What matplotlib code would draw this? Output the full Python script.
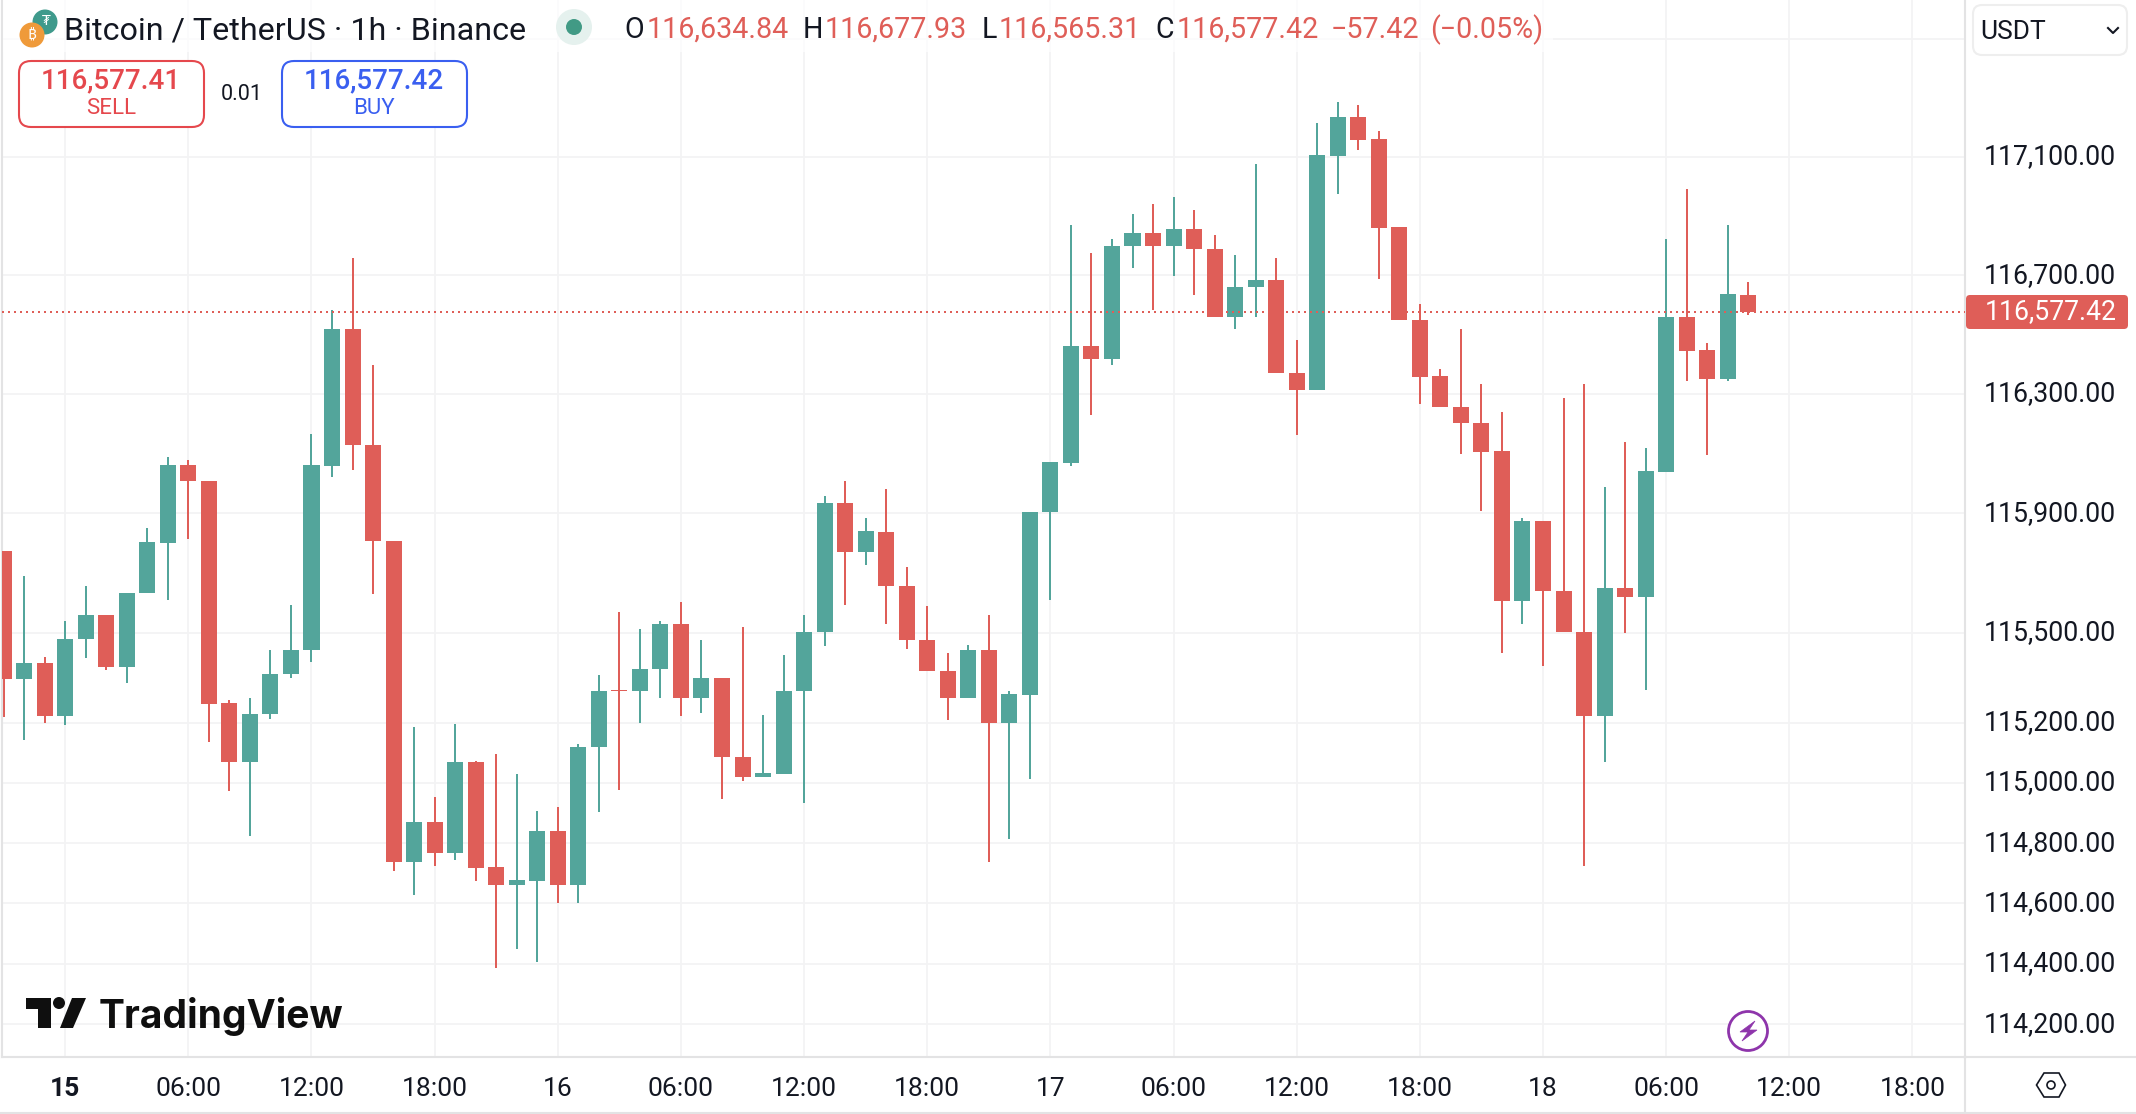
import matplotlib
matplotlib.use("Agg")
import numpy as np
import matplotlib.pyplot as plt
from matplotlib.patches import Circle, FancyBboxPatch, Polygon, Rectangle

plt.rcParams["font.family"] = ["Roboto", "Noto Sans", "DejaVu Sans"]

GREEN = "#53a59b"
RED = "#df5e58"
DARK = "#131722"
GRID = "#f3f3f4"
BORDER = "#e3e3e4"

# hours since 15th 00:00, first candle is 21:00 the day before
hours = np.arange(-3, 83)

opens = [115775, 115345, 115400, 115221, 115478, 115558, 115385, 115632, 115799, 116060,
         116009, 115267, 115068, 115228, 115361, 115442, 116058, 116520, 116130, 115808,
         114736, 114869, 114766, 115070, 114721, 114660, 114676, 114842, 114660, 115118,
         115310, 115305, 115378, 115528, 115284, 115350, 115087, 115021, 115031, 115305,
         115502, 115935, 115769, 115838, 115658, 115477, 115374, 115284, 115441, 115198,
         115294, 115903, 116068, 116462, 116416, 116797, 116841, 116797, 116857, 116789,
         116558, 116659, 116685, 116372, 116313, 117104, 117234, 117160, 116861, 116550,
         116359, 116257, 116204, 116107, 115605, 115875, 115641, 115504, 115224, 115651,
         115619, 116038, 116560, 116449, 116349, 116634.84]
closes = [115345, 115400, 115221, 115481, 115558, 115385, 115634, 115802, 116060, 116007,
          115264, 115068, 115230, 115364, 115444, 116060, 116520, 116128, 115806, 114736,
          114869, 114766, 115070, 114719, 114660, 114679, 114842, 114660, 115121, 115307,
          115305, 115380, 115528, 115284, 115350, 115085, 115021, 115034, 115307, 115504,
          115935, 115769, 115842, 115656, 115475, 115371, 115284, 115441, 115198, 115297,
          115905, 116070, 116462, 116416, 116799, 116841, 116797, 116857, 116787, 116558,
          116661, 116685, 116369, 116313, 117107, 117234, 117158, 116858, 116548, 116356,
          116255, 116201, 116104, 115605, 115875, 115639, 115502, 115224, 115651, 115619,
          116040, 116560, 116446, 116349, 116635, 116577.42]
highs = [115775, 115691, 115420, 115541, 115658, 115558, 115634, 115852, 116087, 116077,
         116009, 115277, 115283, 115444, 115594, 116167, 116583, 116758, 116399, 115808,
         115187, 114954, 115197, 115074, 115097, 115030, 114908, 114921, 115131, 115360,
         115571, 115514, 115538, 115604, 115477, 115350, 115521, 115227, 115427, 115561,
         115959, 116009, 115885, 115982, 115721, 115591, 115431, 115461, 115558, 115307,
         115905, 116070, 116871, 116776, 116821, 116907, 116941, 116964, 116921, 116834,
         116769, 117077, 116758, 116480, 117214, 117284, 117274, 117187, 116861, 116604,
         116385, 116517, 116332, 116241, 115885, 115875, 116287, 116335, 115989, 116140,
         116120, 116823, 116992, 116470, 116871, 116677.93]
lows = [115218, 115142, 115201, 115194, 115415, 115375, 115331, 115632, 115609, 115813,
        115135, 114972, 114825, 115214, 115348, 115401, 116021, 116044, 115629, 114709,
        114627, 114724, 114743, 114673, 114385, 114451, 114405, 114600, 114600, 114905,
        114976, 115201, 115284, 115221, 115234, 114946, 115008, 115021, 115031, 114932,
        115455, 115592, 115726, 115528, 115445, 115371, 115208, 115284, 114736, 114813,
        115012, 115609, 116058, 116228, 116396, 116724, 116584, 116696, 116632, 116558,
        116518, 116558, 116369, 116161, 116313, 116973, 117124, 116686, 116548, 116268,
        116255, 116098, 115906, 115431, 115528, 115388, 115502, 114724, 115068, 115498,
        115308, 116038, 116343, 116094, 116343, 116565.31]
last_price = 116577.42

price_ticks = [117500, 117100, 116700, 116300, 115900, 115500, 115200, 115000, 114800, 114600, 114400, 114200]
price_labels = ["", "117,100.00", "116,700.00", "116,300.00", "115,900.00", "115,500.00", "115,200.00",
                "115,000.00", "114,800.00", "114,600.00", "114,400.00", "114,200.00"]
time_ticks = [0, 6, 12, 18, 24, 30, 36, 42, 48, 54, 60, 66, 72, 78, 84, 90]
time_labels = ["15", "06:00", "12:00", "18:00", "16", "06:00", "12:00", "18:00",
               "17", "06:00", "12:00", "18:00", "18", "06:00", "12:00", "18:00"]

fig = plt.figure(figsize=(21.36, 11.14), dpi=100, facecolor="white")
ax = fig.add_axes([2 / 2136, 57 / 1114, 1963 / 2136, 1057 / 1114])
ax.set_yscale("log")
ax.set_xlim(-3.079, 92.56)
ax.set_ylim(114092.7, 117631.8)
ax.set_yticks(price_ticks, price_labels, va="center")
ax.minorticks_off()
ax.set_xticks(time_ticks, time_labels)
ax.yaxis.tick_right()
ax.tick_params(axis="y", length=0, pad=13.5, labelsize=19.2, labelcolor=DARK)
ax.tick_params(axis="x", length=0, pad=14.5, labelsize=19, labelcolor=DARK)
ax.get_xticklabels()[0].set_fontweight("bold")
ax.grid(True, color=GRID, lw=1.3)
ax.set_axisbelow(True)
for side, spine in ax.spines.items():
    spine.set_visible(side != "top")
    spine.set_color(BORDER)
    spine.set_linewidth(1.5)

o = np.array(opens)
c = np.array(closes)
colors = [GREEN if cl >= op else RED for op, cl in zip(opens, closes)]
ax.vlines(hours, lows, highs, colors=colors, lw=1.44, zorder=2)
ax.bar(hours, np.abs(c - o), bottom=np.minimum(o, c), width=0.78, color=colors, zorder=3)
ax.axhline(last_price, color=RED, lw=1.44, ls=(0, (1, 2)), zorder=4)

# overlay in image pixels for the toolbar pieces around the chart
ov = fig.add_axes([0, 0, 1, 1], facecolor="none")
ov.set_xlim(0, 2136)
ov.set_ylim(1114, 0)
ov.axis("off")

ov.add_patch(Rectangle((3, 0), 1550, 52, fc="white", alpha=0.7, ec="none"))
ov.plot([0, 2136], [1112.5, 1112.5], color=BORDER, lw=1.5)
ov.plot([1965, 1965], [1057, 1112], color=BORDER, lw=1.5)
ov.plot([1965, 2136], [1057, 1057], color=BORDER, lw=1.5)

# symbol icons
ov.add_patch(Circle((45, 22), 12.5, fc="#3f9a8c", ec="none"))
ov.text(46, 21, "₮", color="white", fontsize=10, ha="center", va="center", family=["DejaVu Sans"])
ov.add_patch(Circle((32, 35), 12.5, fc="#ef9a3a", ec="none"))
ov.text(32, 35, "₿", color="white", fontsize=11, ha="center", va="center", family=["Noto Sans", "DejaVu Sans"])
ov.text(64, 31, "Bitcoin / TetherUS · 1h · Binance", color=DARK, fontsize=23.2, va="center")
ov.add_patch(Circle((574, 27), 18, fc="#e5f1ee", ec="none"))
ov.add_patch(Circle((574, 27), 8, fc="#419a85", ec="none"))

for letter, lx, value, vx in [("O", 624, "116,634.84", 647), ("H", 803, "116,677.93", 825),
                              ("L", 982, "116,565.31", 999), ("C", 1155, "116,577.42", 1177)]:
    ov.text(lx, 30, letter, color=DARK, fontsize=20.6, va="center")
    ov.text(vx, 30, value, color=RED, fontsize=20.6, va="center")
ov.text(1331, 30, "−57.42", color=RED, fontsize=20.6, va="center")
ov.text(1430, 30, "(−0.05%)", color=RED, fontsize=20.6, va="center")

# sell and buy buttons
for bx, edge, price, word in [(19, "#e5484d", "116,577.41", "SELL"), (282, "#3a5ff0", "116,577.42", "BUY")]:
    ov.add_patch(FancyBboxPatch((bx + 10, 71), 165, 46, boxstyle="round,pad=10,rounding_size=12",
                                fc="white", ec=edge, lw=1.5))
    ov.text(bx + 92, 81, price, color=edge, fontsize=20, fontweight="medium", ha="center", va="center")
    ov.text(bx + 92, 109, word, color=edge, fontsize=16, ha="center", va="center")
ov.text(242, 94, "0.01", color=DARK, fontsize=15.5, ha="center", va="center")

# currency selector and last price tag
ov.add_patch(FancyBboxPatch((1983, 15), 134, 30, boxstyle="round,pad=10,rounding_size=9",
                            fc="white", ec="#eeeeee", lw=1.5))
ov.text(1980, 32, "USDT", color=DARK, fontsize=19, va="center")
ov.plot([2108, 2113, 2118], [28, 33, 28], color=DARK, lw=1.5)
ov.add_patch(FancyBboxPatch((1970, 299), 154, 26, boxstyle="round,pad=4,rounding_size=4",
                            fc=RED, ec="none"))
ov.text(2117, 312, "116,577.42", color="white", fontsize=19.2, ha="right", va="center")

# TradingView mark
LOGO = "#0f0f0f"
ov.add_patch(Polygon([(26, 998), (51, 998), (51, 1028), (38, 1028), (38, 1009), (26, 1009)], fc=LOGO, ec="none"))
ov.add_patch(Circle((59, 1003), 6, fc=LOGO, ec="none"))
ov.add_patch(Polygon([(72, 998), (86, 998), (73, 1028), (60, 1028)], fc=LOGO, ec="none"))
ov.text(99, 1028, "TradingView", color=LOGO, fontsize=28.1, fontweight="bold", va="baseline", family=["Inter"])

# lightning badge
PURPLE = "#8e35ab"
ov.add_patch(Circle((1748, 1031), 19.5, fc="white", ec=PURPLE, lw=2))
ov.add_patch(Polygon([(1755, 1021), (1740, 1032), (1748, 1032), (1742, 1041), (1757, 1030), (1749, 1030)],
                     fc=PURPLE, ec=PURPLE, lw=0.5))

# settings hexagon
ov.add_patch(Polygon([(2036.5, 1085), (2044, 1073), (2059, 1073), (2065.5, 1085), (2059, 1097), (2044, 1097)],
                     fc="none", ec=DARK, lw=1.2))
ov.add_patch(Circle((2051, 1085), 4, fc="none", ec=DARK, lw=1.2))

fig.savefig("out.png", dpi=100)
